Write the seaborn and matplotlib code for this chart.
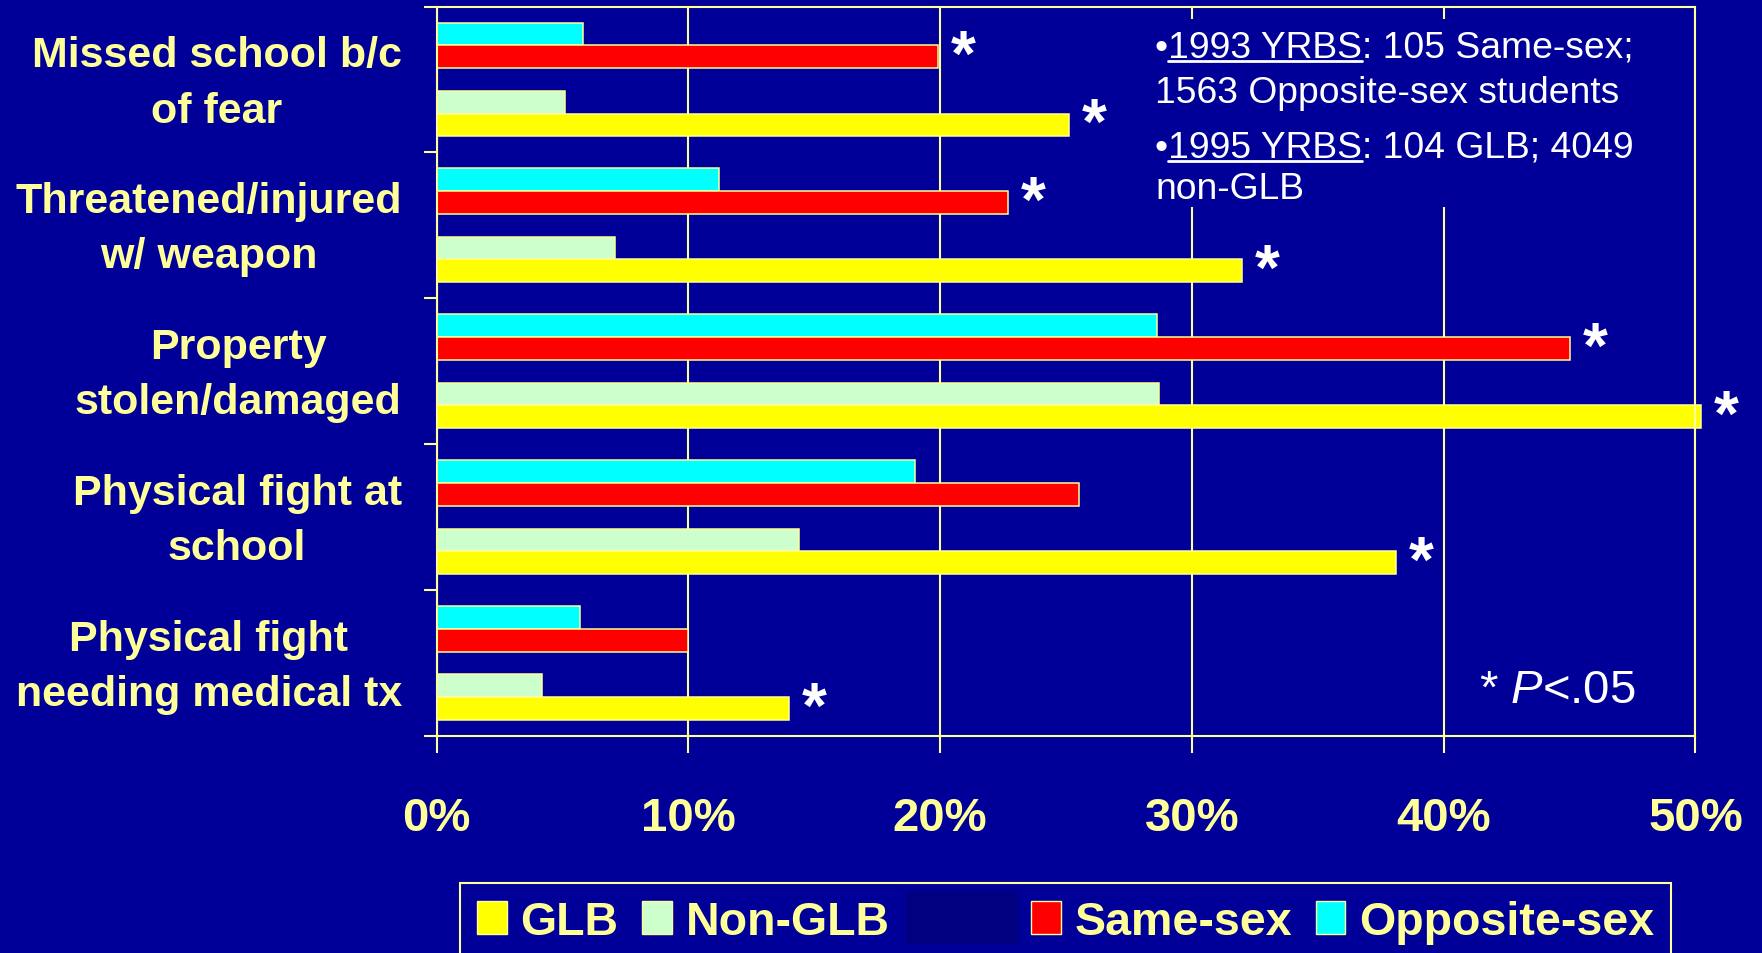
import matplotlib
matplotlib.use("Agg")
import matplotlib.pyplot as plt
import seaborn as sns
import pandas as pd
import numpy as np
from matplotlib.patches import Patch, Rectangle
from matplotlib.legend_handler import HandlerBase
from matplotlib.lines import Line2D
from matplotlib.colors import to_rgba
from matplotlib.transforms import ScaledTranslation

# ---- data (percent of students) ----
categories = [
    "Missed school b/c\nof fear",
    "Threatened/injured\nw/ weapon",
    "Property\nstolen/damaged",
    "Physical fight at\nschool",
    "Physical fight\nneeding medical tx",
]
glb = [25.1, 32.0, 50.2, 38.1, 14.0]
non_glb = [5.1, 7.1, 28.7, 14.4, 4.2]
same_sex = [19.9, 22.7, 45.0, 25.5, 10.0]
opposite_sex = [5.8, 11.2, 28.6, 19.0, 5.7]

# significance (P<.05) flags per series
sig_glb = [True, True, True, True, True]
sig_same_sex = [True, True, True, False, False]

x_ticks = [0, 10, 20, 30, 40, 50]
x_tick_labels = ["0%", "10%", "20%", "30%", "40%", "50%"]

BLANK = " "
hue_order = ["Opposite-sex", "Same-sex", BLANK, "Non-GLB", "GLB"]  # top to bottom in a group
legend_order = ["GLB", "Non-GLB", BLANK, "Same-sex", "Opposite-sex"]

BG = "#000099"
PALE = "#FFFF99"
palette = {
    "GLB": "#FFFF00",
    "Non-GLB": "#CCFFCC",
    BLANK: "#000080",
    "Same-sex": "#FF0000",
    "Opposite-sex": "#00FFFF",
}

series = {"GLB": glb, "Non-GLB": non_glb, "Same-sex": same_sex, "Opposite-sex": opposite_sex}
rows = []
for name, vals in series.items():
    for cat, v in zip(categories, vals):
        rows.append({"category": cat, "group": name, "value": v})
df = pd.DataFrame(rows)

sig = {"GLB": sig_glb, "Same-sex": sig_same_sex}

# ---- figure ----
sns.set_theme(style="white")
plt.rcParams["font.family"] = ["Liberation Sans", "DejaVu Sans"]
plt.rcParams["mathtext.fontset"] = "custom"
plt.rcParams["mathtext.rm"] = "Liberation Sans"
plt.rcParams["mathtext.it"] = "Liberation Sans:italic"

W, H = 1762, 954
PT = 72 / 100  # points per pixel at 100 dpi
fig = plt.figure(figsize=(W / 100, H / 100), dpi=100, facecolor=BG)


def fx(px):
    return px / W


def fy(py):
    return 1 - py / H


ax = fig.add_axes([fx(436.5), fy(737), fx(1695.5) - fx(436.5), fy(7.5) - fy(737)])
ax.set_facecolor(BG)

sns.barplot(
    data=df, y="category", x="value", hue="group", hue_order=hue_order,
    order=categories, palette=palette, orient="h", width=0.78,
    edgecolor=PALE, linewidth=1.1, saturation=1, errorbar=None,
    legend=False, ax=ax,
)
for p in ax.patches:
    p.set_clip_on(False)

ax.set_xlim(0, 50)
ax.set_ylim(4.5, -0.5)
ax.set_xlabel("")
ax.set_ylabel("")
ax.set_axisbelow(True)
ax.xaxis.grid(True, color=PALE, linewidth=1.5)
ax.yaxis.grid(False)

for s in ax.spines.values():
    s.set_visible(True)
    s.set_color(PALE)
    s.set_linewidth(1.5)

ax.set_xticks(x_ticks)
ax.set_xticklabels(x_tick_labels)
ax.tick_params(axis="x", which="major", length=12, width=1.5, color=PALE,
               direction="out", pad=31, labelsize=34, labelcolor=PALE, bottom=True)
ax.set_yticks(np.arange(-0.5, len(categories), 1), minor=True)
ax.tick_params(axis="y", which="major", length=0, pad=25, labelsize=31, labelcolor=PALE)
ax.tick_params(axis="y", which="minor", length=9.5, width=1.5, color=PALE,
               direction="out", left=True)
for lbl in ax.get_xticklabels():
    lbl.set_fontweight("bold")
label_shift = ScaledTranslation(0, -3.5 / 100, fig.dpi_scale_trans)
for tick in ax.yaxis.get_major_ticks():
    lbl = tick.label1
    lbl.set_fontweight("bold")
    lbl.set_multialignment("center")
    lbl.set_linespacing(1.49)
    lbl.set_verticalalignment("center")
    lbl.set_transform(lbl.get_transform() + label_shift)

# significance asterisks at the end of flagged bars
for bar in ax.patches:
    w = bar.get_width()
    if not np.isfinite(w) or w <= 0:
        continue
    yc = bar.get_y() + bar.get_height() / 2
    fc = bar.get_facecolor()
    for name, flags in sig.items():
        if np.allclose(fc[:3], to_rgba(palette[name])[:3]):
            i = int(round(yc))
            if flags[i]:
                ax.annotate("*", xy=(w, yc), xytext=(13, -1), textcoords="offset pixels",
                            ha="left", va="center", color="white", fontsize=46,
                            fontweight="bold", annotation_clip=False)


# ---- legend ----
class WideBlankHandler(HandlerBase):
    """Plain wide swatch with no outline, for the unlabeled series."""

    def legend_artist(self, legend, orig_handle, fontsize, handlebox):
        h = handlebox.height
        handlebox.width = 81 * PT
        r = Rectangle((-handlebox.xdescent - 7 * PT, -handlebox.ydescent - 0.33 * h),
                      113 * PT, h * 1.66,
                      facecolor=orig_handle.get_facecolor(), edgecolor="none",
                      transform=handlebox.get_transform())
        handlebox.add_artist(r)
        return r


handles = []
labels = []
hmap = {}
for name in legend_order:
    if name == BLANK:
        hd = Patch(facecolor=palette[name], edgecolor="none")
        hmap[hd] = WideBlankHandler()
        labels.append("")
    else:
        hd = Patch(facecolor=palette[name], edgecolor=PALE, linewidth=1.0)
        labels.append(name)
    handles.append(hd)

leg = fig.legend(
    handles, labels, handler_map=hmap, loc="upper left",
    bbox_to_anchor=(fx(460), fy(884)), bbox_transform=fig.transFigure,
    ncol=5, frameon=True, fancybox=False, facecolor=BG, edgecolor=PALE,
    framealpha=1, borderaxespad=0, borderpad=0.36, handlelength=0.64,
    handleheight=0.69, handletextpad=0.3, columnspacing=0.5,
    prop={"weight": "bold", "size": 33.5}, labelcolor=PALE,
)
leg.get_frame().set_linewidth(1.5)

# ---- sample-size notes ----
fig.add_artist(Rectangle((fx(1146), fy(208)), fx(1650) - fx(1146), fy(20) - fy(208),
                         transform=fig.transFigure, facecolor=BG, edgecolor="none",
                         zorder=1))
notes = [
    ("1993 YRBS", ": 105 Same-sex;", "1563 Opposite-sex students", 57, 103),
    ("1995 YRBS", ": 104 GLB; 4049", "non-GLB", 157, 199),
]
note_x = 1155
renderer = fig.canvas.get_renderer()
for src, rest, line2, base1, base2 in notes:
    kw = dict(fontsize=26.8, color="white", va="baseline", ha="left", zorder=2)
    fig.text(fx(note_x), fy(base1), "\u2022" + src + rest, **kw)
    fig.text(fx(note_x), fy(base2), line2, **kw)
    tmp = fig.text(fx(note_x), fy(base1), "\u2022", **kw)
    x0 = tmp.get_window_extent(renderer).x1
    tmp.set_text("\u2022" + src)
    x1 = tmp.get_window_extent(renderer).x1
    tmp.remove()
    yline = H - (base1 + 5)
    fig.add_artist(Line2D([x0 / W, x1 / W], [yline / H, yline / H],
                          transform=fig.transFigure, color="white", linewidth=2.0,
                          zorder=2))

fig.text(fx(1479), fy(703), "* $P$<.05", fontsize=34, color="white",
         va="baseline", ha="left", zorder=2)

fig.savefig("out.png", dpi=100, facecolor=BG)
